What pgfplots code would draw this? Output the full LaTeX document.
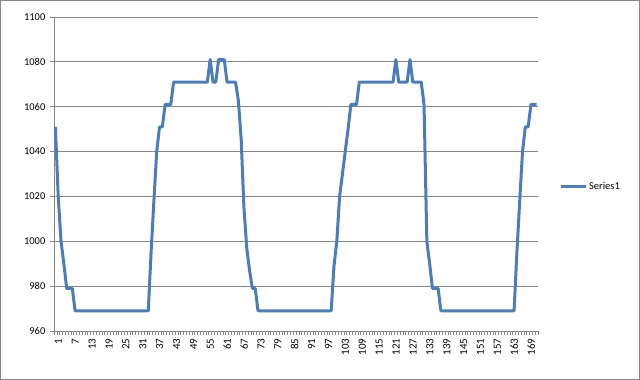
\documentclass[border=0pt]{standalone}
\usepackage{fontspec}
\setmainfont{Carlito}
\usepackage{pgfplots}
\pgfplotsset{compat=1.18}
\definecolor{serblue}{HTML}{4A7EBB}
\definecolor{gridgray}{HTML}{868686}
\begin{document}
\fontsize{10.5}{12}\selectfont
\begin{tikzpicture}
\useasboundingbox (-54bp,-49bp) rectangle (586bp,331bp);
\begin{axis}[
  at={(0,0)}, anchor=south west,
  scale only axis, width=484bp, height=314bp,
  xmin=0.5, xmax=172.5, ymin=960, ymax=1100,
  axis x line*=bottom, axis y line*=left,
  axis line style={gridgray, line width=0.75bp, -},
  ytick={960,980,...,1100},
  xtick={1,7,...,169},
  minor xtick={0.5,1.5,...,172.5},
  tick align=outside,
  major tick length=4bp, minor tick length=4bp,
  major x tick style={draw=none},
  minor x tick style={gridgray, line width=0.6bp},
  major y tick style={gridgray, line width=0.75bp},
  ymajorgrids, major grid style={gridgray, line width=0.75bp},
  /pgf/number format/assume math mode=true,
  /pgf/number format/1000 sep={},
  yticklabel style={font=\fontsize{10.5}{12}\selectfont, xshift=-1bp},
  xticklabel style={font=\fontsize{11}{12}\selectfont, rotate=90, anchor=east, yshift=-3bp},
  legend style={at={(1,0.5)}, anchor=west, xshift=18bp, yshift=-13bp, draw=none, fill=none, font=\fontsize{10.5}{12}\selectfont},
  legend image code/.code={\draw[#1] (0bp,0bp) -- (25bp,0bp);},
]
\addplot[serblue, line width=3bp, line join=round] table {
x y
1 1051
2 1020
3 1000
4 990
5 979
6 979
7 979
8 969
9 969
10 969
11 969
12 969
13 969
14 969
15 969
16 969
17 969
18 969
19 969
20 969
21 969
22 969
23 969
24 969
25 969
26 969
27 969
28 969
29 969
30 969
31 969
32 969
33 969
34 969
35 995
36 1018
37 1040
38 1051
39 1051
40 1061
41 1061
42 1061
43 1071
44 1071
45 1071
46 1071
47 1071
48 1071
49 1071
50 1071
51 1071
52 1071
53 1071
54 1071
55 1071
56 1081
57 1071
58 1071
59 1081
60 1081
61 1081
62 1071
63 1071
64 1071
65 1071
66 1063
67 1046
68 1015
69 997
70 987
71 979
72 979
73 969
74 969
75 969
76 969
77 969
78 969
79 969
80 969
81 969
82 969
83 969
84 969
85 969
86 969
87 969
88 969
89 969
90 969
91 969
92 969
93 969
94 969
95 969
96 969
97 969
98 969
99 969
100 989
101 1000
102 1020
103 1030
104 1040
105 1050
106 1061
107 1061
108 1061
109 1071
110 1071
111 1071
112 1071
113 1071
114 1071
115 1071
116 1071
117 1071
118 1071
119 1071
120 1071
121 1071
122 1081
123 1071
124 1071
125 1071
126 1071
127 1081
128 1071
129 1071
130 1071
131 1071
132 1061
133 1000
134 990
135 979
136 979
137 979
138 969
139 969
140 969
141 969
142 969
143 969
144 969
145 969
146 969
147 969
148 969
149 969
150 969
151 969
152 969
153 969
154 969
155 969
156 969
157 969
158 969
159 969
160 969
161 969
162 969
163 969
164 969
165 995
166 1018
167 1040
168 1051
169 1051
170 1061
171 1061
172 1061
};
\addlegendentry{Series1}
\end{axis}
\draw[gridgray, line width=0.75bp] (-53.6bp,-48.6bp) rectangle (585.6bp,330.6bp);
\end{tikzpicture}
\end{document}
